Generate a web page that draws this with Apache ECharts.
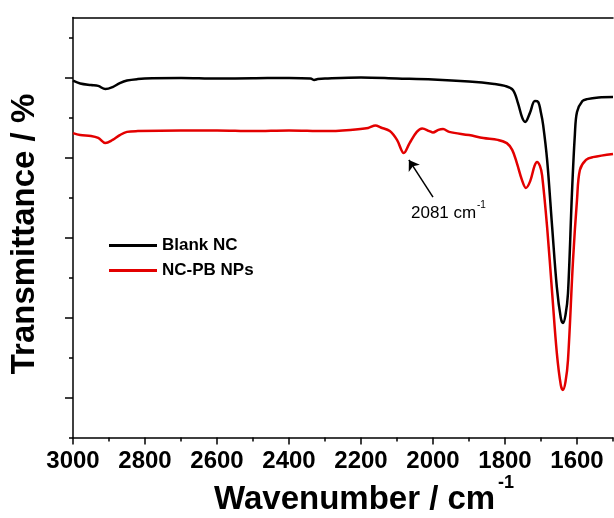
<!DOCTYPE html>
<html>
<head>
<meta charset="utf-8">
<script src="https://cdn.jsdelivr.net/npm/echarts@6/dist/echarts.min.js"></script>
<style>html,body{margin:0;padding:0;background:#fff;overflow:hidden}#c{width:614px;height:518px}</style>
</head>
<body>
<div id="c"></div>
<script>
// ---- data (wavenumber in cm^-1, transmittance in arbitrary units) ----
var blankWn = [3000,2980,2950,2930,2910,2890,2870,2850,2820,2780,2700,2600,2500,2400,2340,2330,2320,2300,2200,2100,2000,1900,1830,1800,1778,1764,1752,1744,1731,1717,1708,1700,1694,1683,1669,1656,1645,1639,1632,1625,1614,1606,1600,1585,1572,1540,1500];
var blankT  = [89.2,88.5,88.1,87.9,87.1,87.6,88.6,89.25,89.6,89.8,89.9,89.75,89.8,89.9,89.75,89.4,89.6,89.75,90.0,89.75,89.5,89.0,88.4,87.9,86.9,83.6,79.9,78.9,81.1,84.1,83.9,81.1,78.1,69.4,52.6,37.6,29.9,28.6,30.6,36.1,61.1,75.6,81.4,84.1,84.6,85.0,85.1];
var pbWn = [3000,2980,2950,2930,2910,2890,2870,2850,2820,2700,2600,2500,2400,2300,2230,2180,2160,2145,2120,2100,2081,2065,2045,2030,2010,2000,1985,1972,1955,1900,1860,1820,1795,1780,1767,1753,1742,1730,1718,1711,1703,1697,1683,1669,1656,1645,1639,1632,1625,1611,1600,1592,1575,1556,1500];
var pbT  = [76.1,75.6,75.4,74.9,73.6,74.4,75.6,76.4,76.6,76.75,76.75,76.6,76.75,76.6,76.9,77.4,78.0,77.5,76.6,74.4,71.1,73.6,76.4,77.25,76.6,76.25,76.9,77.1,76.4,75.6,74.9,74.4,73.6,71.9,68.6,64.4,62.4,64.1,67.9,68.9,67.9,65.6,52.6,36.1,21.1,13.1,11.9,13.9,19.4,44.4,59.4,66.9,69.4,70.1,70.9];
var seriesNames = ['Blank NC', 'NC-PB NPs'];
var xMajor = [3000,2800,2600,2400,2200,2000,1800,1600];
var xMinor = [2900,2700,2500,2300,2100,1900,1700,1500];
var yMajor = [10,30,50,70,90];
var yMinor = [0,20,40,60,80,100];
var arrowFrom = [2000, 60.1];
var arrowTo = [2067, 69.4];

function pairs(xs, ys){ return xs.map(function(x,i){ return [x, ys[i]]; }); }

var FONT = 'Arial, "Liberation Sans", sans-serif';
var BLK = { color: '#000', width: 1.5 };
function xBase(extra) {
  var o = { type: 'value', min: 1500, max: 3000, inverse: true, splitLine: { show: false } };
  for (var k in extra) o[k] = extra[k];
  return o;
}
var chart = echarts.init(document.getElementById('c'), null, {renderer:'canvas'});
chart.setOption({
  animation: false,
  backgroundColor: '#fff',
  grid: { left: 73, right: 1, top: 17.5, bottom: 80.5, show: false },
  legend: {
    orient: 'vertical', left: 109, top: 236, padding: 0, itemWidth: 48, itemHeight: 3, itemGap: 6, icon: 'rect',
    textStyle: { fontFamily: FONT, fontWeight: 'bold', fontSize: 17, color: '#000', lineHeight: 19 },
    data: seriesNames
  },
  xAxis: [
    xBase({ position: 'bottom',
      axisLine: { show: true, lineStyle: BLK },
      axisTick: { show: true, inside: false, length: 7, customValues: xMajor, lineStyle: BLK },
      axisLabel: { fontFamily: FONT, fontWeight: 'bold', fontSize: 24, color: '#000', margin: 12,
        customValues: xMajor, formatter: function (v) { return String(v); } } }),
    xBase({ position: 'bottom', offset: 0,
      axisLine: { show: false },
      axisTick: { show: true, inside: false, length: 4, customValues: xMinor, lineStyle: BLK },
      axisLabel: { show: false } }),
    xBase({ position: 'top', offset: 0,
      axisLine: { show: true, lineStyle: BLK },
      axisTick: { show: false }, axisLabel: { show: false } })
  ],
  yAxis: [{
    type: 'value', min: 0, max: 105, position: 'left',
    axisLine: { show: true, lineStyle: BLK },
    axisTick: { show: true, length: 4, customValues: yMinor, lineStyle: BLK },
    axisLabel: { show: false },
    splitLine: { show: false }
  }, {
    type: 'value', min: 0, max: 105, position: 'left', offset: 0,
    axisLine: { show: false },
    axisTick: { show: true, length: 8, customValues: yMajor, lineStyle: BLK },
    axisLabel: { show: false },
    splitLine: { show: false }
  }],
  series: [{
    name: seriesNames[0], type: 'line', xAxisIndex: 0, yAxisIndex: 0, data: pairs(blankWn, blankT), showSymbol: false, symbol: 'none',
    smooth: 0.35, lineStyle: { color: '#000', width: 2.5 }, itemStyle: { color: '#000' }
  }, {
    name: seriesNames[1], type: 'line', xAxisIndex: 0, yAxisIndex: 0, data: pairs(pbWn, pbT), showSymbol: false, symbol: 'none',
    smooth: 0.35, lineStyle: { color: '#e30000', width: 2.5 }, itemStyle: { color: '#e30000' },
    markLine: {
      silent: true, symbol: ['none', 'arrow'], symbolSize: 10,
      lineStyle: { color: '#000', width: 1.5, type: 'solid' }, label: { show: false },
      data: [[{ coord: arrowFrom }, { coord: arrowTo }]]
    }
  }],
  graphic: [
    { type: 'text', x: 25, y: 234, rotation: Math.PI / 2,
      style: { text: 'Transmittance / %', font: 'bold 33px ' + FONT, fill: '#000', textAlign: 'center', textVerticalAlign: 'middle', align: 'center', verticalAlign: 'middle' } },
    { type: 'text', x: 214, y: 500,
      style: { text: 'Wavenumber / cm', font: 'bold 33px ' + FONT, fill: '#000', textAlign: 'left', textVerticalAlign: 'middle', align: 'left', verticalAlign: 'middle' } },
    { type: 'text', x: 498, y: 483,
      style: { text: '-1', font: 'bold 18px ' + FONT, fill: '#000', textAlign: 'left', textVerticalAlign: 'middle', align: 'left', verticalAlign: 'middle' } },
    { type: 'text', x: 411, y: 213,
      style: { text: '2081 cm', font: '17px ' + FONT, fill: '#000', textAlign: 'left', textVerticalAlign: 'middle', align: 'left', verticalAlign: 'middle' } },
    { type: 'text', x: 477, y: 205,
      style: { text: '-1', font: '10px ' + FONT, fill: '#000', textAlign: 'left', textVerticalAlign: 'middle', align: 'left', verticalAlign: 'middle' } }
  ]
});
</script>
</body>
</html>
